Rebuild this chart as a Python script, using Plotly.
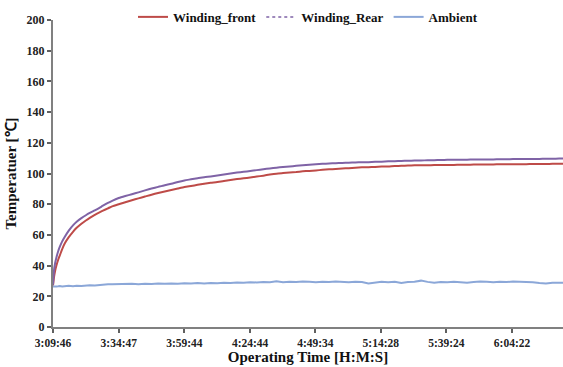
import plotly.graph_objects as go

# elapsed minutes since 3:09:46
t_min = [0, 0.4, 0.8, 1.3, 2, 2.6, 3.5, 4.5, 6, 7.6, 9, 10.8, 12.5, 14, 15.9, 17.5, 19, 20.9, 22.5,
         25, 27.5, 30, 32.5,
         35, 37.5, 40, 42.5, 45, 47.5, 50, 52.5, 55, 57.5, 60, 62.5, 65, 67.5, 70, 72.5,
         75, 77.5, 80, 82.5, 85, 87.5, 90, 92.5, 95, 97.5, 100, 102.5, 105, 107.5, 110,
         112.5, 115, 117.5, 120, 122.5, 125, 127.5, 130, 132.5, 135, 137.5, 140, 142.5,
         145, 147.5, 150, 152.5, 155, 157.5, 160, 162.5, 165, 167.5, 170, 172.5, 175,
         177.5, 180, 182.5, 185, 187.5, 190, 192.5, 194.7]

winding_front = [27, 32.7, 36.5, 40, 44, 46.7, 50.8, 54.5, 58.5, 62, 64.6, 67.3, 69.4, 71.1, 73,
                 74.5, 75.8, 77.3, 78.6,
                 80, 81.3, 82.6, 83.8, 85, 86.2, 87.3, 88.3, 89.2, 90.2, 91.2, 91.9, 92.6,
                 93.3, 93.9, 94.4, 95.1, 95.8, 96.4, 96.9, 97.4, 98, 98.6, 99.3, 99.9, 100.3,
                 100.7, 101, 101.4, 101.7, 102, 102.4, 102.7, 103, 103.3, 103.5, 103.8, 104,
                 104.1, 104.3, 104.5, 104.6, 104.9, 105, 105.2, 105.3, 105.3, 105.4, 105.5,
                 105.5, 105.6, 105.6, 105.7, 105.7, 105.8, 105.8, 105.9, 105.9, 106, 106, 106.1,
                 106.1, 106.1, 106.2, 106.2, 106.2, 106.3, 106.3, 106.3]

winding_rear = [27.5, 37, 41.5, 45.3, 49.5, 52.3, 55.8, 58.8, 62.8, 66.2, 68.6, 70.9, 72.8, 74.3,
                76.0, 77.5, 79.0, 80.8, 82.2,
                84.0, 85.3, 86.5, 87.7, 89, 90.2, 91.3, 92.4, 93.3, 94.5, 95.5, 96.2, 96.9,
                97.6, 98.1, 98.7, 99.4, 100, 100.6, 101.1, 101.6, 102.2, 102.8, 103.3, 103.8,
                104.2, 104.6, 105, 105.4, 105.7, 106, 106.3, 106.5, 106.7, 106.9, 107, 107.2,
                107.3, 107.4, 107.6, 107.7, 107.9, 108, 108.2, 108.3, 108.4, 108.5, 108.6,
                108.7, 108.8, 108.9, 108.9, 109, 109, 109.1, 109.1, 109.2, 109.2, 109.3, 109.3,
                109.4, 109.4, 109.5, 109.5, 109.5, 109.6, 109.6, 109.7, 109.7]

ambient = [26.4, 26.3, 26.6, 26.4, 26.5, 26.7, 26.4, 26.6, 26.8, 26.6, 26.9, 26.7, 27.0, 27.2,
           27.0, 27.4, 27.6, 27.9, 27.8,
           28.0, 27.8, 28.1, 27.9, 28.2, 28.0, 28.3, 28.1, 28.4, 28.2, 28.5, 28.3,
           28.6, 28.4, 28.7, 28.5, 28.8, 28.6, 29.0, 28.8, 29.2, 29.0, 29.3, 29.1, 29.8, 29.2,
           29.5, 29.3, 29.6, 29.4, 29.2, 29.5, 29.3, 29.6, 29.4, 29.2, 29.5, 29.3, 28.4, 29.0,
           29.4, 29.2, 29.5, 28.6, 29.3, 29.5, 30.2, 29.4, 28.8, 29.3, 29.1, 29.4, 29.2, 28.9,
           29.3, 29.6, 29.4, 29.2, 29.5, 29.3, 29.6, 29.4, 29.5, 29.2, 28.6, 28.4, 28.9, 28.7,
           28.8]

tick_labels = ["3:09:46", "3:34:47", "3:59:44", "4:24:44", "4:49:34", "5:14:28", "5:39:24", "6:04:22"]


def to_min(s):
    h, m, sec = (int(v) for v in s.split(":"))
    return h * 60 + m + sec / 60.0


t0 = to_min(tick_labels[0])
tick_vals = [to_min(s) - t0 for s in tick_labels]

RED = "#BE4B48"
PURPLE = "#7F63A6"
BLUE = "#8BA7D8"
FONT = "Liberation Serif"

fig = go.Figure()
fig.add_trace(go.Scatter(x=t_min, y=winding_front, mode="lines", name="Winding_front",
                         line=dict(color=RED, width=2, shape="spline", smoothing=0.6)))
fig.add_trace(go.Scatter(x=t_min, y=winding_rear, mode="lines", name="Winding_Rear",
                         line=dict(color=PURPLE, width=2, shape="spline", smoothing=0.6),
                         showlegend=False))
fig.add_trace(go.Scatter(x=[None], y=[None], mode="lines", name="Winding_Rear",
                         line=dict(color=PURPLE, width=1.5, dash="dot")))
fig.add_trace(go.Scatter(x=t_min, y=ambient, mode="lines", name="Ambient",
                         line=dict(color=BLUE, width=2)))

axis_common = dict(showline=True, linecolor="#808080", linewidth=2, ticks="outside",
                   ticklen=4, tickwidth=1.5, tickcolor="#606060", showgrid=False, zeroline=False)

fig.update_xaxes(range=[0, 194], tickmode="array", tickvals=tick_vals, ticktext=tick_labels,
                 tickfont=dict(family=FONT, size=11.5, color="#222", weight="bold"),
                 title=dict(text="Operating Time [H:M:S]",
                            font=dict(family=FONT, size=15, color="#111", weight="bold"), standoff=4),
                 **axis_common)
fig.update_yaxes(range=[0, 200], dtick=20,
                 tickfont=dict(family=FONT, size=12, color="#222", weight="bold"),
                 title=dict(text="Temperatuer [℃]",
                            font=dict(family=FONT, size=15, color="#111", weight="bold"), standoff=6),
                 **axis_common)

fig.update_layout(
    width=563, height=367,
    margin=dict(l=53, r=0, t=20, b=40),
    paper_bgcolor="white", plot_bgcolor="white",
    showlegend=True,
    legend=dict(orientation="h", x=0.5, xanchor="center", y=1.01, yanchor="middle",
                font=dict(family=FONT, size=13, color="#111", weight="bold"), itemwidth=30,
                bgcolor="rgba(0,0,0,0)"),
    font=dict(family=FONT),
)

fig.write_html("out.html")
